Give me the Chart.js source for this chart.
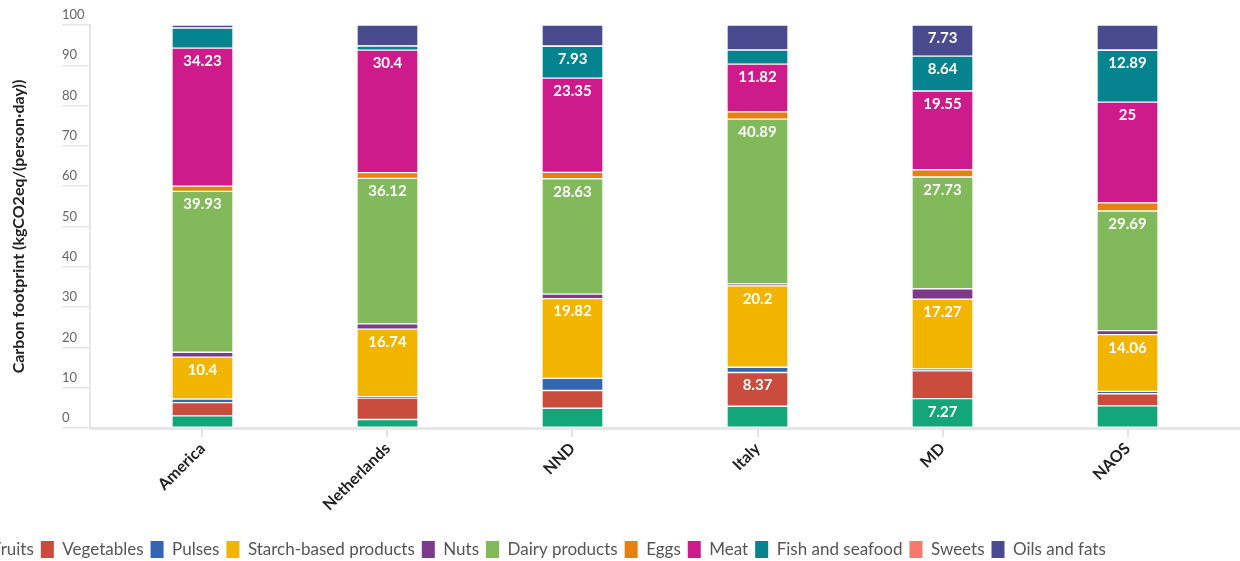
<!DOCTYPE html>
<html>
<head>
<meta charset="utf-8">
<script src="https://cdn.jsdelivr.net/npm/chart.js@4/dist/chart.umd.min.js"></script>
<style>
  html, body { margin: 0; padding: 0; background: #ffffff; overflow: hidden; }
  #wrap { position: absolute; left: -164px; top: 0; width: 1404px; height: 561px; }
</style>
</head>
<body>
<div id="wrap"><canvas id="c"></canvas></div>
<script>
// ---- data ----
const categories = ['America', 'Netherlands', 'NND', 'Italy', 'MD', 'NAOS'];
const seriesNames = ['Fruits', 'Vegetables', 'Pulses', 'Starch-based products', 'Nuts',
  'Dairy products', 'Eggs', 'Meat', 'Fish and seafood', 'Sweets', 'Oils and fats'];

const fruits     = [3.0,  2.1,  4.9,  5.4,  7.27, 5.5];
const vegetables = [3.3,  5.3,  4.4,  8.37, 6.9,  3.0];
const pulses     = [0.9,  0.4,  3.0,  1.3,  0.51, 0.6];
const starch     = [10.4, 16.74, 19.82, 20.2, 17.27, 14.06];
const nuts       = [1.2,  1.3,  1.1,  0.5,  2.6,  1.0];
const dairy      = [39.93, 36.12, 28.63, 40.89, 27.73, 29.69];
const eggs       = [1.3,  1.4,  1.6,  1.8,  1.8,  2.0];
const meat       = [34.23, 30.4, 23.35, 11.82, 19.55, 25];
const fish       = [5.0,  1.0,  7.93, 3.5,  8.64, 12.89];
const sweets     = [0.1,  0.1,  0.1,  0.1,  0.0,  0.1];
const oils       = [0.64, 5.14, 5.17, 6.12, 7.73, 6.16];

const yTicks = [0, 10, 20, 30, 40, 50, 60, 70, 80, 90, 100];
const labelThreshold = 7;

const seriesValues = [fruits, vegetables, pulses, starch, nuts, dairy, eggs, meat, fish, sweets, oils];
const seriesColors = ['#13a67a', '#c94c3c', '#3465ae', '#f1b500', '#7b3a8b',
  '#82b95b', '#e6810f', '#ce1b8c', '#05838f', '#f7796e', '#4a4b8e'];

const datasets = seriesNames.map((name, i) => ({
  label: name,
  data: seriesValues[i].map((v, j) => ({ x: j, y: v })),
  backgroundColor: seriesColors[i],
  borderColor: 'rgba(255,255,255,0.8)',
  borderWidth: 1,
  borderSkipped: false,
  barThickness: 61
}));

const valueLabels = {
  id: 'valueLabels',
  afterDatasetsDraw(chart) {
    const ctx = chart.ctx;
    ctx.save();
    ctx.font = 'bold 15px Lato';
    ctx.fillStyle = '#ffffff';
    ctx.textAlign = 'center';
    ctx.textBaseline = 'middle';
    chart.data.datasets.forEach((ds, i) => {
      const meta = chart.getDatasetMeta(i);
      meta.data.forEach((el, j) => {
        const v = seriesValues[i][j];
        if (v >= labelThreshold) {
          ctx.fillText(String(v), el.x, el.y + 13);
        }
      });
    });
    ctx.restore();
  }
};

new Chart(document.getElementById('c'), {
  type: 'bar',
  data: { datasets },
  plugins: [valueLabels],
  options: {
    responsive: true,
    maintainAspectRatio: false,
    animation: false,
    layout: { padding: { left: 0, right: 0, top: 25, bottom: -7 } },
    plugins: {
      tooltip: { enabled: false },
      legend: {
        position: 'bottom',
        labels: {
          font: { family: 'Lato', size: 17 },
          color: '#555555',
          boxWidth: 13,
          boxHeight: 17,
          padding: 7,
          generateLabels(chart) {
            const items = Chart.defaults.plugins.legend.labels.generateLabels(chart);
            items.forEach(it => { it.strokeStyle = it.fillStyle; it.lineWidth = 0; });
            return items;
          }
        }
      }
    },
    scales: {
      x: {
        type: 'linear',
        stacked: true,
        offset: false,
        min: -0.608,
        max: 5.608,
        afterBuildTicks(axis) { axis.ticks = categories.map((c, i) => ({ value: i })); },
        afterFit(axis) { axis.height = 106; },
        ticks: {
          autoSkip: false,
          minRotation: 45,
          maxRotation: 45,
          padding: 2,
          font: { family: 'Lato', size: 16, weight: 'bold' },
          color: '#222222',
          callback: (v) => categories[v] !== undefined ? categories[v] : ''
        },
        grid: { drawOnChartArea: false, offset: false, tickLength: 9, color: '#e2e2e2', lineWidth: 2 },
        border: { display: true, color: '#e6e6e6', width: 3 }
      },
      y: {
        stacked: true,
        min: 0,
        max: 100,
        afterBuildTicks(axis) { axis.ticks = yTicks.map(v => ({ value: v })); },
        afterFit(axis) { axis.width = 254; },
        ticks: {
          mirror: true,
          padding: -28,
          labelOffset: -10,
          font: { family: 'Lato', size: 13 },
          color: '#666666'
        },
        grid: { drawOnChartArea: false, tickLength: 28, color: '#e6e6e6', lineWidth: 1.5 },
        border: { display: true, color: '#e6e6e6', width: 2 },
        title: {
          display: true,
          text: 'Carbon footprint (kgCO2eq/(person·day))',
          font: { family: 'Lato', size: 16, weight: 'bold' },
          color: '#222222',
          padding: { top: 173, bottom: 0 }
        }
      }
    }
  }
});
</script>
</body>
</html>
